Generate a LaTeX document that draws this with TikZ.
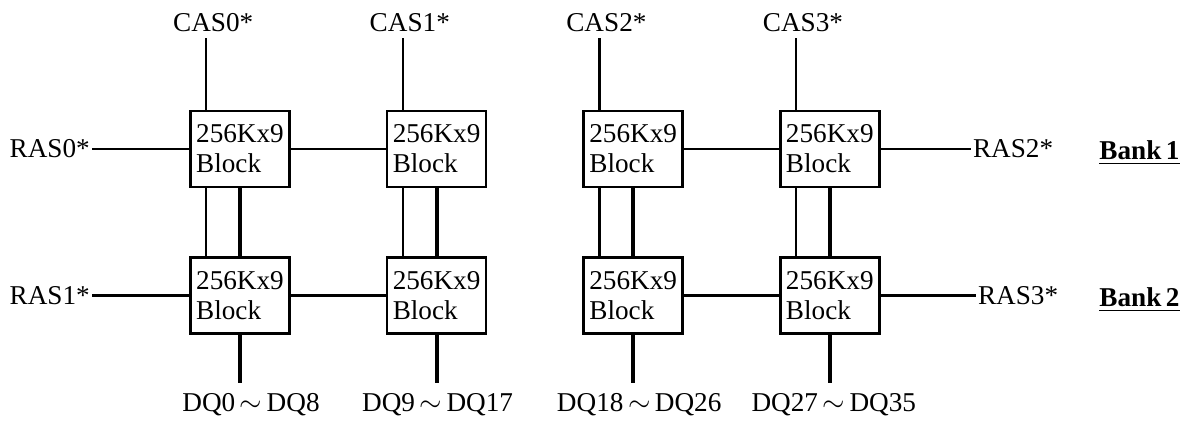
\documentclass[tikz,border=0pt]{standalone}
\usepackage{fontspec}
\setmainfont{Liberation Serif}
\usetikzlibrary{positioning}
\begin{document}
\begin{tikzpicture}[x=1pt, y=1pt,
      block/.style={
        % The box:
        rectangle, minimum width=49.5pt, minimum height=38pt,
        % The rest
        draw, line width=1.3pt, align=left, inner sep=2pt,
        font=\fontsize{13.6}{15}\selectfont},
      signal/.style={inner sep=1pt, font=\fontsize{13.6}{15}\selectfont},
      bank/.style={inner sep=1pt, font=\fontsize{13.6}{15}\selectfont\bfseries},
      wire/.style={line width=1.1pt},
      bus/.style={line width=1.9pt}]
    \useasboundingbox (0,0) rectangle (591.5,-210.5);
    % Bank 1
    \node(b1)[block] at (120,-74.5) {256Kx9\\Block};
    \node(b2)[block, right=47.5pt, at=(b1.east)] {256Kx9\\Block};
    \path (b1) edge[wire] (b2);
    \node(b3)[block, right=47.5pt, at=(b2.east)] {256Kx9\\Block};
    \node(b4)[block, right=47.5pt, at=(b3.east)] {256Kx9\\Block};
    \path (b3) edge[wire] (b4);
    % Bank 2
    \node(b5)[block, below=34pt, at=(b1.south)] {256Kx9\\Block};
    \node(b6)[block, below=34pt, at=(b2.south)] {256Kx9\\Block};
    \path (b5) edge[wire] (b6);
    \node(b7)[block, below=34pt, at=(b3.south)] {256Kx9\\Block};
    \node(b8)[block, below=34pt, at=(b4.south)] {256Kx9\\Block};
    \path (b7) edge[wire] (b8);
    % links between the banks
    \draw[wire] ([xshift=8.5pt]b1.south west) -- ([xshift=8.5pt]b5.north west);
    \path (b1) edge[bus] (b5);
    \draw[wire] ([xshift=8.5pt]b2.south west) -- ([xshift=8.5pt]b6.north west);
    \path (b2) edge[bus] (b6);
    \draw[wire] ([xshift=8.5pt]b3.south west) -- ([xshift=8.5pt]b7.north west);
    \path (b3) edge[bus] (b7);
    \draw[wire] ([xshift=8.5pt]b4.south west) -- ([xshift=8.5pt]b8.north west);
    \path (b4) edge[bus] (b8);
    % CAS lines
    \node(cas0)[signal, inner ysep=3pt, above=36pt, at={([xshift=12pt]b1.north west)}]{CAS0*};
    \draw[wire] ([xshift=8.5pt]b1.north west) -- ([xshift=-3.5pt]cas0.south);
    \node(cas1)[signal, inner ysep=3pt, above=36pt, at={([xshift=12pt]b2.north west)}]{CAS1*};
    \draw[wire] ([xshift=8.5pt]b2.north west) -- ([xshift=-3.5pt]cas1.south);
    \node(cas2)[signal, inner ysep=3pt, above=36pt, at={([xshift=12pt]b3.north west)}]{CAS2*};
    \draw[wire] ([xshift=8.5pt]b3.north west) -- ([xshift=-3.5pt]cas2.south);
    \node(cas3)[signal, inner ysep=3pt, above=36pt, at={([xshift=12pt]b4.north west)}]{CAS3*};
    \draw[wire] ([xshift=8.5pt]b4.north west) -- ([xshift=-3.5pt]cas3.south);
    % RAS lines
    \node(ras0)[signal, left=48.5pt, at=(b1.west)]{RAS0*};
    \path (ras0) edge[wire] (b1);
    \node(ras1)[signal, left=48.5pt, at=(b5.west)]{RAS1*};
    \path (ras1) edge[wire] (b5);
    \node(ras2)[signal, right=45pt, at=(b4.east)]{RAS2*};
    \path (b4) edge[wire] (ras2);
    \node(ras3)[signal, right=47.5pt, at=(b8.east)]{RAS3*};
    \path (b8) edge[wire] (ras3);
    % data lines
    \node(dq0)[signal, inner ysep=5pt, below=24pt, at=(b5.south), xshift=5.5pt]{DQ0\,$\sim$\,DQ8};
    \draw[bus] (b5) -- (b5 |- dq0.north);
    \node(dq1)[signal, inner ysep=5pt, below=24pt, at=(b6.south), xshift=0.5pt]{DQ9\,$\sim$\,DQ17};
    \draw[bus] (b6) -- (b6 |- dq1.north);
    \node(dq2)[signal, inner ysep=5pt, below=24pt, at=(b7.south), xshift=3pt]{DQ18\,$\sim$\,DQ26};
    \draw[bus] (b7) -- (b7 |- dq2.north);
    \node(dq3)[signal, inner ysep=5pt, below=24pt, at=(b8.south), xshift=2pt]{DQ27\,$\sim$\,DQ35};
    \draw[bus] (b8) -- (b8 |- dq3.north);
    % bank names
    \node(bank1)[bank, anchor=base west] at (548.5,-80) {\underline{Bank\,1}};
    \node(bank2)[bank, anchor=base west] at (548.5,-153.5) {\underline{Bank\,2}};
  \end{tikzpicture}
\end{document}
